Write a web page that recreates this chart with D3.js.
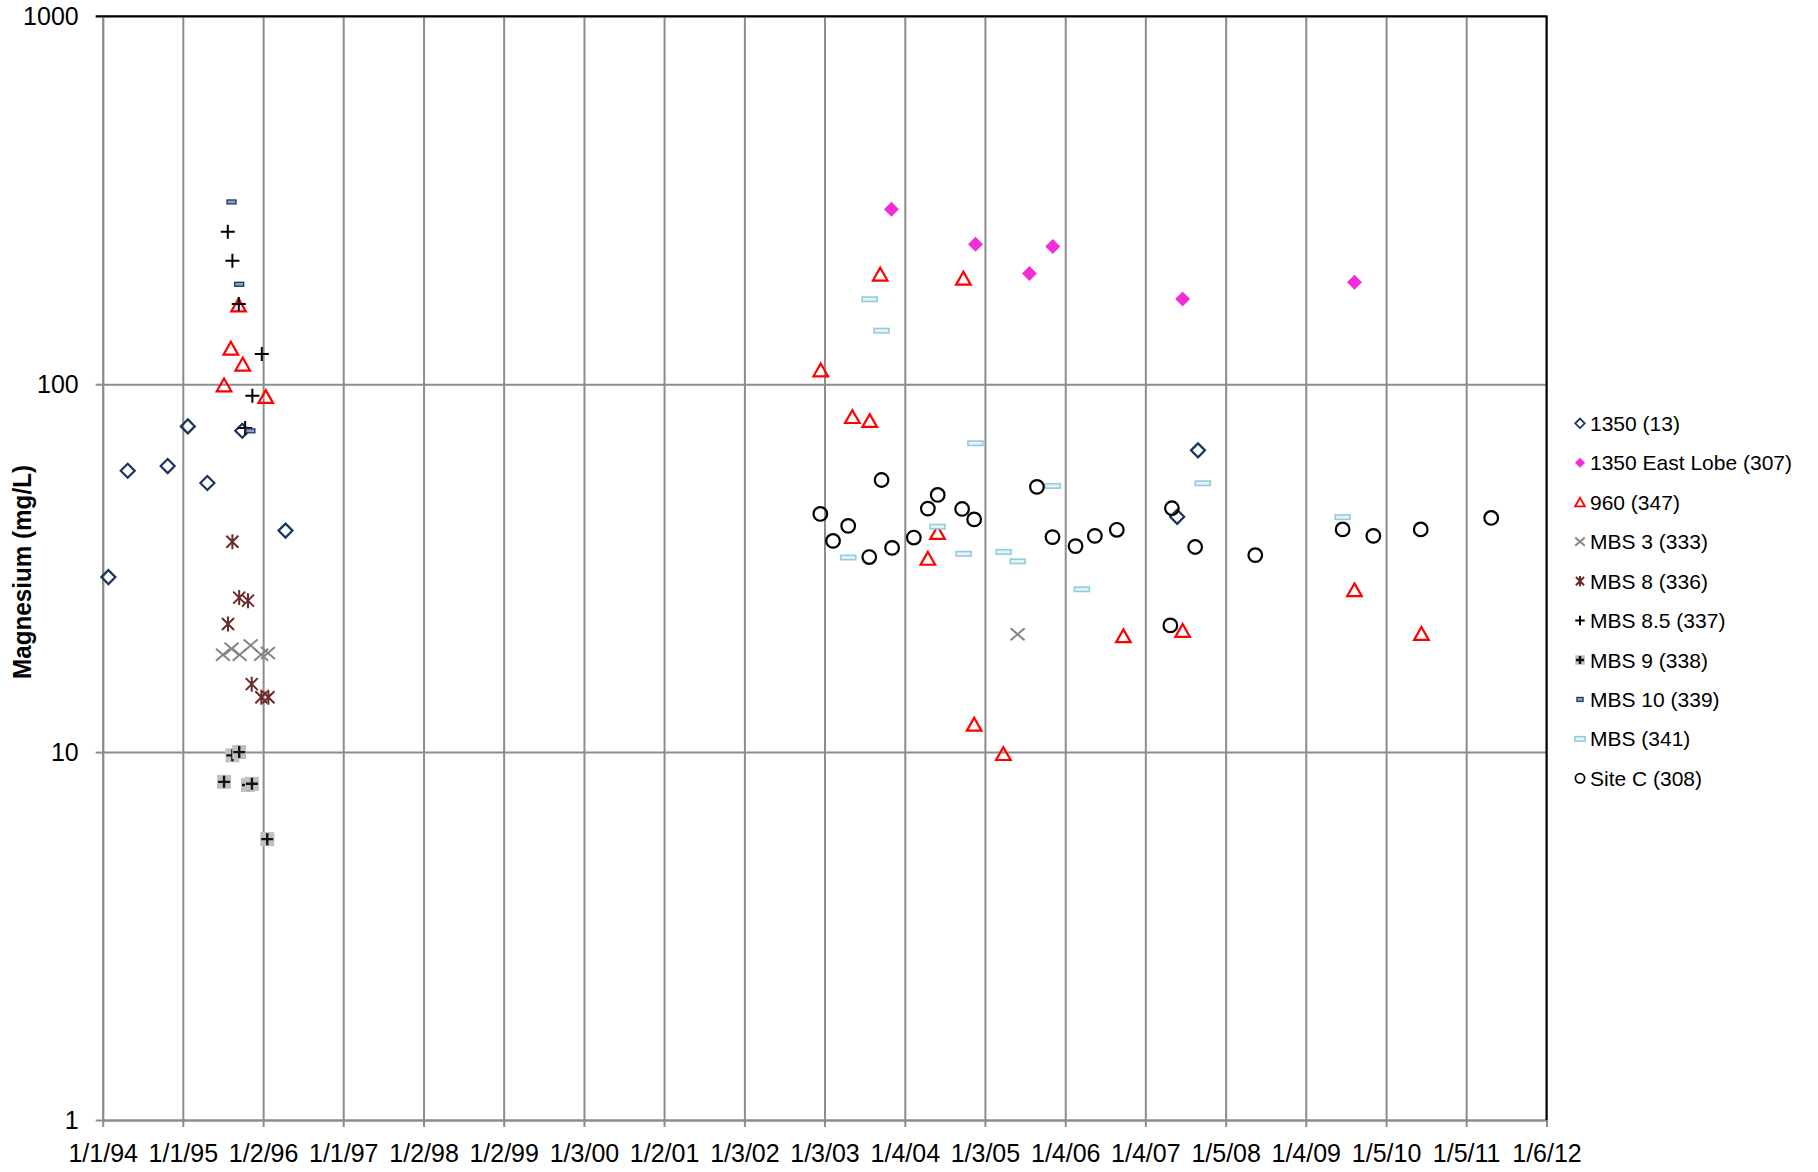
<!DOCTYPE html>
<html>
<head>
<meta charset="utf-8">
<script src="https://cdn.jsdelivr.net/npm/d3@7"></script>
<style>
  html, body { margin: 0; padding: 0; background: #fff; }
  svg { display: block; }
  text { font-family: "Liberation Sans", Arial, sans-serif; fill: #000; }
</style>
</head>
<body>
<svg id="chart" width="1818" height="1172"></svg>
<script>
// ---------------- DATA ----------------
const tickLabels = ["1/1/94","1/1/95","1/2/96","1/1/97","1/2/98","1/2/99","1/3/00","1/2/01","1/3/02","1/3/03",
                    "1/4/04","1/3/05","1/4/06","1/4/07","1/5/08","1/4/09","1/5/10","1/5/11","1/6/12"];
const yTickValues = [1, 10, 100, 1000];
const yTitle = "Magnesium (mg/L)";

const s1350 = [["1994-01-27",29.9],["1994-04-25",58.2],["1994-10-24",59.9],["1995-01-24",76.8],["1995-04-23",53.9],
               ["1995-09-29",74.7],["1996-04-13",40.0],["2007-05-29",43.6],["2007-09-01",66.1]];
const s1350East = [["2003-11-04",298.8],["2004-11-21",240],["2005-07-25",200],["2005-11-08",236.6],["2007-06-23",170.4],
                   ["2009-08-14",189.2]];
const s960 = [["1995-07-08",99.5],["1995-08-08",125.2],["1995-09-12",164],["1995-10-01",113.3],["1996-01-14",92.5],
              ["2002-12-17",109.3],["2003-05-10",81.6],["2003-07-28",79.6],["2003-09-14",199],["2004-04-18",33.6],
              ["2004-06-01",39.5],["2004-09-27",194],["2004-11-15",11.9],["2005-03-28",9.9],["2006-09-26",20.7],
              ["2007-06-23",21.4],["2009-08-14",27.6],["2010-06-15",21.0]];
const sMBS3 = [["1995-07-03",18.4],["1995-08-11",19.1],["1995-09-17",18.4],["1995-11-06",19.5],["1995-12-24",18.4],
               ["1996-01-24",18.6],["2005-06-01",20.9]];
const sMBS8 = [["1995-07-26",22.3],["1995-08-15",37.3],["1995-09-15",26.3],["1995-10-25",25.8],["1995-11-11",15.3],
               ["1995-12-25",14.1],["1996-01-26",14.1]];
const sMBS85 = [["1995-07-25",259.7],["1995-08-15",216.6],["1995-09-13",165.2],["1995-10-12",76.0],["1995-11-14",93.0],
                ["1995-12-27",120.8]];
const sMBS9 = [["1995-07-08",8.3],["1995-08-15",9.8],["1995-09-15",10.0],["1995-10-25",8.14],["1995-11-12",8.2],
               ["1996-01-21",5.8]];
const sMBS10 = [["1995-08-11",312.9],["1995-09-15",186.9],["1995-11-05",74.7]];
const sMBS341 = [["2003-04-21",33.8],["2003-07-28",170.2],["2003-09-20",139.8],["2004-06-01",41.0],["2004-09-28",34.6],
                 ["2004-11-21",69.1],["2005-03-29",35.0],["2005-06-01",33.0],["2005-11-08",52.9],["2006-03-21",27.7],
                 ["2007-09-23",53.8],["2009-06-21",43.5]];
const sSiteC = [["2002-12-15",44.4],["2003-02-11",37.5],["2003-04-21",41.2],["2003-07-26",33.9],["2003-09-20",54.9],
                ["2003-11-07",35.9],["2004-02-14",38.3],["2004-04-18",45.9],["2004-06-02",50.0],["2004-09-21",45.8],
                ["2004-11-15",42.9],["2005-08-28",52.6],["2005-11-07",38.4],["2006-02-20",36.3],["2006-05-19",38.7],
                ["2006-08-27",40.2],["2007-04-28",22.1],["2007-05-05",46.0],["2007-08-19",36.1],["2008-05-19",34.3],
                ["2009-06-21",40.3],["2009-11-08",38.7],["2010-06-12",40.3],["2011-04-29",43.3]];

const seriesNames = ["1350 (13)","1350 East Lobe (307)","960 (347)","MBS 3 (333)","MBS 8 (336)","MBS 8.5 (337)",
                     "MBS 9 (338)","MBS 10 (339)","MBS (341)","Site C (308)"];
const seriesData = [s1350, s1350East, s960, sMBS3, sMBS8, sMBS85, sMBS9, sMBS10, sMBS341, sSiteC];
const seriesShapes = ["diamondOpen","diamondFill","triangle","cross","asterisk","plus","plusBox","dashDark","dashLight","circle"];

// ---------------- LAYOUT ----------------
const svg = d3.select("#chart");
const plot = { left: 102.7, right: 1546.5, top: 16.3, bottom: 1120 };
const parseDate = d3.timeParse("%Y-%m-%d");
const parseTick = d3.timeParse("%m/%d/%y");
const tickDates = tickLabels.map(parseTick);

const x = d3.scaleTime()
  .domain([tickDates[0], tickDates[tickDates.length - 1]])
  .range([plot.left, plot.right]);
const y = d3.scaleLog()
  .domain([1, 1000])
  .range([plot.bottom, plot.top]);

const gridColor = "#8c8c8c";

// vertical gridlines
svg.append("g")
  .attr("transform", `translate(0,${plot.bottom})`)
  .call(d3.axisBottom(x).tickValues(tickDates).tickSize(-(plot.bottom - plot.top)).tickFormat(""))
  .call(g => g.select(".domain").remove())
  .call(g => g.selectAll("line").attr("stroke", gridColor).attr("stroke-width", 2));

// horizontal gridlines
svg.append("g")
  .attr("transform", `translate(${plot.left},0)`)
  .call(d3.axisLeft(y).tickValues(yTickValues).tickSize(-(plot.right - plot.left)).tickFormat(""))
  .call(g => g.select(".domain").remove())
  .call(g => g.selectAll("line").attr("stroke", gridColor).attr("stroke-width", 2));

// x axis
svg.append("g")
  .attr("transform", `translate(0,${plot.bottom})`)
  .call(d3.axisBottom(x).tickValues(tickDates).tickFormat((d, i) => tickLabels[i]).tickSize(7).tickPadding(17).tickSizeOuter(0))
  .call(g => g.select(".domain").attr("stroke", gridColor).attr("stroke-width", 2))
  .call(g => g.selectAll(".tick line").attr("stroke", gridColor).attr("stroke-width", 2))
  .call(g => g.selectAll("text").attr("font-size", 25).attr("font-family", "Liberation Sans, Arial, sans-serif").attr("fill", "#000"));

// y axis
svg.append("g")
  .attr("transform", `translate(${plot.left},0)`)
  .call(d3.axisLeft(y).tickValues(yTickValues).tickFormat(d3.format("d")).tickSize(7).tickPadding(17).tickSizeOuter(0))
  .call(g => g.select(".domain").attr("stroke", gridColor).attr("stroke-width", 2))
  .call(g => g.selectAll(".tick line").attr("stroke", gridColor).attr("stroke-width", 2))
  .call(g => g.selectAll("text").attr("font-size", 25).attr("font-family", "Liberation Sans, Arial, sans-serif").attr("fill", "#000"));

// plot border top & right (black)
svg.append("line").attr("x1", plot.left - 7).attr("x2", plot.right + 1).attr("y1", plot.top).attr("y2", plot.top)
  .attr("stroke", "#000").attr("stroke-width", 2);
svg.append("line").attr("x1", plot.right).attr("x2", plot.right).attr("y1", plot.top).attr("y2", plot.bottom)
  .attr("stroke", "#000").attr("stroke-width", 2);

// y title
svg.append("text")
  .attr("transform", `translate(31,572) rotate(-90)`)
  .attr("text-anchor", "middle")
  .attr("font-family", "Lato, 'Open Sans', sans-serif")
  .attr("font-weight", "bold")
  .attr("font-size", 25)
  .attr("textLength", 214)
  .attr("lengthAdjust", "spacingAndGlyphs")
  .text(yTitle);

// ---------------- MARKERS ----------------
function drawMarker(g, shape, s) {
  // s = scale factor
  switch (shape) {
    case "diamondOpen":
      g.append("path").attr("d", `M0,${-7*s}L${7*s},0L0,${7*s}L${-7*s},0Z`)
        .attr("fill", "none").attr("stroke", "#1b355c").attr("stroke-width", 2.2 * Math.max(s, 0.8));
      break;
    case "diamondFill":
      g.append("path").attr("d", `M0,${-7.5*s}L${7.5*s},0L0,${7.5*s}L${-7.5*s},0Z`)
        .attr("fill", "#f22edb").attr("stroke", "none");
      break;
    case "triangle":
      g.append("path").attr("d", `M0,${-6.5*s}L${7.3*s},${6.3*s}L${-7.3*s},${6.3*s}Z`)
        .attr("fill", "none").attr("stroke", "#ff0000").attr("stroke-width", 2.2 * Math.max(s, 0.8)).attr("stroke-linejoin", "miter");
      break;
    case "cross":
      g.append("path").attr("d", `M${-7*s},${-6*s}L${7*s},${6*s}M${-7*s},${6*s}L${7*s},${-6*s}`)
        .attr("fill", "none").attr("stroke", "#858585").attr("stroke-width", 2);
      break;
    case "asterisk":
      g.append("path").attr("d", `M${-6*s},${-6*s}L${6*s},${6*s}M${-6*s},${6*s}L${6*s},${-6*s}M0,${-7.5*s}L0,${7.5*s}`)
        .attr("fill", "none").attr("stroke", "#6b2a2a").attr("stroke-width", 2);
      break;
    case "plus":
      g.append("path").attr("d", `M${-7*s},0L${7*s},0M0,${-7*s}L0,${7*s}`)
        .attr("fill", "none").attr("stroke", "#000").attr("stroke-width", 2);
      break;
    case "plusBox":
      g.append("rect").attr("x", -7*s).attr("y", -7*s).attr("width", 14*s).attr("height", 14*s)
        .attr("fill", "#c0c0c0");
      g.append("path").attr("d", `M${-6*s},0L${6*s},0M0,${-6*s}L0,${6*s}`)
        .attr("fill", "none").attr("stroke", "#111").attr("stroke-width", 2.4);
      break;
    case "dashDark":
      g.append("rect").attr("x", -4.5*s).attr("y", -2).attr("width", 9*s).attr("height", 4)
        .attr("fill", "#8aa3bf").attr("stroke", "#1f3864").attr("stroke-width", 1.3);
      break;
    case "dashLight":
      g.append("rect").attr("x", -7.5*s).attr("y", -2.2).attr("width", 15*s).attr("height", 4.4)
        .attr("fill", "#e4f3f7").attr("stroke", "#93cddd").attr("stroke-width", 1.6);
      break;
    case "circle":
      g.append("circle").attr("r", 6.8*s)
        .attr("fill", "none").attr("stroke", "#000").attr("stroke-width", 2.2 * Math.max(s, 0.8));
      break;
  }
}

const marks = svg.append("g");
seriesData.forEach((data, si) => {
  const gs = marks.append("g").attr("class", "series");
  data.forEach(([d, v]) => {
    const g = gs.append("g").attr("transform", `translate(${x(parseDate(d))},${y(v)})`);
    drawMarker(g, seriesShapes[si], 1);
  });
});

// ---------------- LEGEND ----------------
const legend = svg.append("g");
const legY0 = 423.3, legStep = 39.45;
seriesNames.forEach((name, i) => {
  const gy = legY0 + i * legStep;
  const mg = legend.append("g").attr("transform", `translate(1580,${gy})`);
  drawMarker(mg, seriesShapes[i], 0.68);
  legend.append("text")
    .attr("x", 1590).attr("y", gy).attr("dy", "0.36em")
    .attr("font-size", 21)
    .text(name);
});
</script>
</body>
</html>
